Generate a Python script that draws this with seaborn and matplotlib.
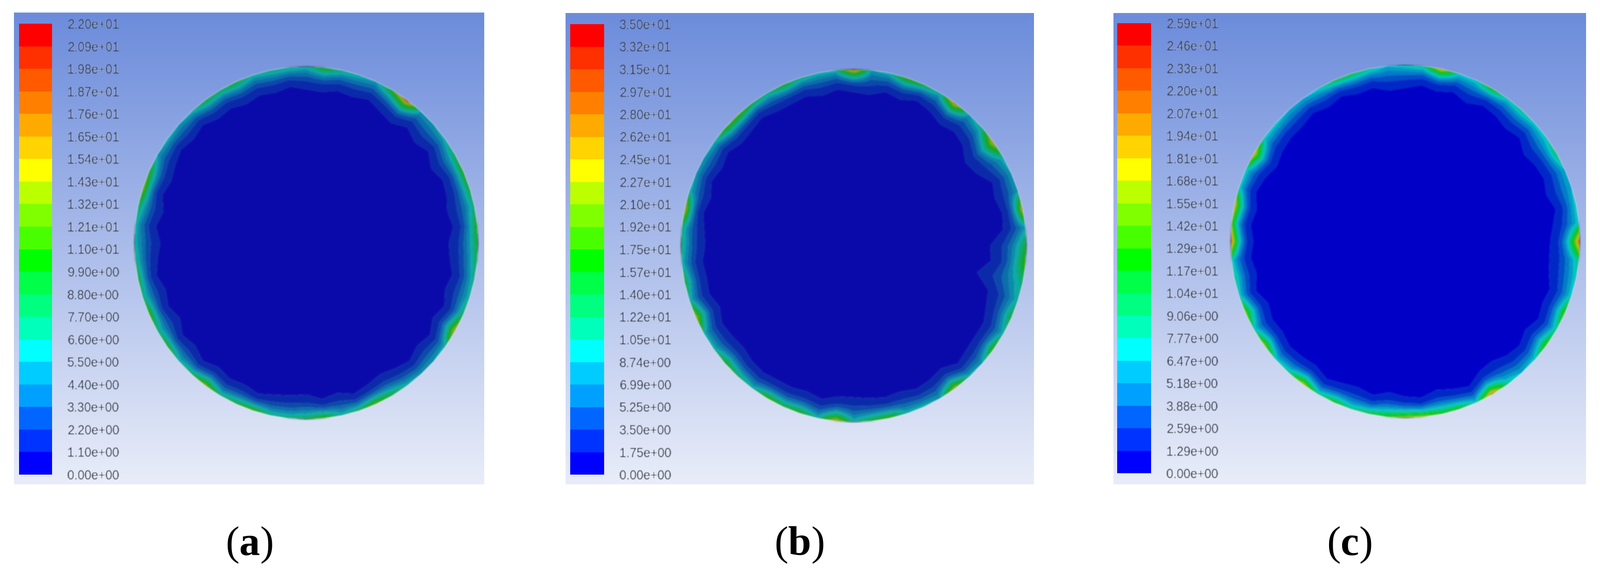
import numpy as np
import matplotlib
matplotlib.use("Agg")
import matplotlib.pyplot as plt
from matplotlib.colors import ListedColormap, to_rgb
import seaborn as sns

# 범례 눈금값 (위에서 아래로)
ticks_a = [22.0, 20.9, 19.8, 18.7, 17.6, 16.5, 15.4, 14.3, 13.2, 12.1, 11.0, 9.9, 8.8, 7.7, 6.6, 5.5, 4.4, 3.3, 2.2, 1.1, 0.0]
ticks_b = [35.0, 33.2, 31.5, 29.7, 28.0, 26.2, 24.5, 22.7, 21.0, 19.2, 17.5, 15.7, 14.0, 12.2, 10.5, 8.74, 6.99, 5.25, 3.5, 1.75, 0.0]
ticks_c = [25.9, 24.6, 23.3, 22.0, 20.7, 19.4, 18.1, 16.8, 15.5, 14.2, 12.9, 11.7, 10.4, 9.06, 7.77, 6.47, 5.18, 3.88, 2.59, 1.29, 0.0]

# 원 둘레의 값 (범례 칸 번호, 동쪽에서 반시계로 6도 간격)
wall_a = [9, 10, 7, 9, 10, 8, 6, 5, 5, 18, 10, 5, 6, 7, 10, 6, 7, 7, 6, 9,
          8, 9, 6, 5, 6, 5, 10, 13, 8, 6, 6, 7, 9, 7, 11, 7, 10, 6, 8, 13,
          7, 9, 11, 7, 7, 8, 11, 6, 8, 12, 9, 6, 5, 5, 6, 15, 8, 6, 7, 8]
wall_b = [9, 5, 15, 5, 5, 6, 15, 7, 5, 16, 6, 9, 11, 6, 5, 17, 6, 6, 7, 10,
          7, 9, 12, 11, 6, 5, 5, 6, 15, 7, 7, 6, 9, 6, 14, 6, 6, 10, 8, 6,
          11, 9, 10, 6, 15, 6, 9, 11, 6, 6, 5, 14, 6, 5, 11, 6, 9, 6, 7, 11]
wall_c = [18, 6, 6, 5, 5, 8, 6, 6, 7, 6, 10, 6, 6, 15, 7, 6, 5, 7, 9, 9,
          6, 5, 5, 6, 6, 15, 6, 6, 15, 11, 18, 6, 7, 6, 12, 6, 13, 6, 7, 14,
          7, 10, 7, 9, 10, 13, 13, 10, 10, 6, 17, 7, 5, 6, 11, 7, 11, 6, 6, 7]

# 가장 안쪽 영역 경계까지의 깊이 (반지름 대비 %)
depth_a = [17, 14, 16, 14, 13, 16, 12, 15, 12, 16, 14, 11, 13, 12, 14, 13, 11, 13, 12, 14,
           12, 13, 10, 12, 10, 12, 14, 12, 15, 12, 15, 13, 11, 14, 12, 15, 11, 13, 10, 13,
           11, 12, 10, 12, 13, 14, 11, 13, 10, 12, 14, 12, 10, 13, 11, 15, 12, 15, 13, 16]
depth_b = [21, 13, 12, 14, 12, 18, 20, 15, 13, 15, 12, 10, 13, 11, 14, 13, 11, 13, 11, 12,
           12, 10, 12, 13, 10, 12, 10, 13, 11, 13, 14, 12, 13, 12, 15, 12, 13, 14, 12, 11,
           12, 12, 13, 11, 14, 14, 13, 12, 13, 11, 12, 14, 10, 12, 13, 13, 16, 18, 27, 20]
depth_c = [17, 15, 12, 15, 13, 14, 16, 12, 14, 12, 11, 14, 11, 13, 11, 13, 14, 11, 12, 10,
           12, 10, 12, 12, 13, 15, 12, 10, 13, 11, 13, 11, 13, 10, 14, 12, 13, 11, 12, 13,
           10, 12, 13, 11, 14, 12, 11, 14, 12, 10, 15, 16, 13, 12, 15, 12, 14, 13, 16, 17]

# 캡션
panel_names = ["a", "b", "c"]

sns.set_theme(style="white")
plt.rcParams['font.family'] = ['Liberation Sans', 'DejaVu Sans']
plt.rcParams['mathtext.fontset'] = 'custom'
plt.rcParams['mathtext.rm'] = 'Liberation Serif'
plt.rcParams['mathtext.bf'] = 'Liberation Serif:bold'

W, H = 3443, 1236
DPI = 100

# Fluent 범례 색
legend_hex = ["#ff0000", "#ff3000", "#ff5a00", "#ff8000", "#ffaa00", "#ffd400", "#ffff00",
              "#bbff00", "#80ff00", "#48ff00", "#00ff00", "#00ff48", "#00ff80", "#00ffbb",
              "#00ffff", "#00ccff", "#00a0ff", "#0066ff", "#0033ff", "#0000ff"]

# 패널 위치 (픽셀): 배경, 범례 막대, 원, 캡션 x
layout = [
  dict(bg=(30, 27, 1042, 1043), bar=(41, 51, 112, 1022), cx=659, cy=523, rx=370, ry=380, shade=0.63, off=10, cap=536),
  dict(bg=(1217, 28, 2225, 1043), bar=(1227, 52, 1300, 1022), cx=1837, cy=529, rx=372, ry=380, shade=0.63, off=10, cap=1719),
  dict(bg=(2396, 28, 3413, 1043), bar=(2404, 50, 2477, 1019), cx=3024, cy=520, rx=376, ry=380, shade=0.78, off=0, cap=2903),
]


# 원본 스크린샷이 흐릿해서 가우시안 블러 필터 사용
def blur(sigma):
  radius = int(3 * sigma)
  kernel = np.exp(-0.5 * (np.arange(-radius, radius + 1) / sigma) ** 2)
  kernel = kernel / kernel.sum()

  def apply(im, dpi):
    pad = radius + 1
    out = np.pad(im, ((pad, pad), (pad, pad), (0, 0)))
    for axis in (0, 1):
      out = np.apply_along_axis(lambda m: np.convolve(m, kernel, mode='same'), axis, out)
    return out, -pad, -pad
  return apply


def draw_panel(fig, ticks, wall, depth, name, cfg):
  x0, y0, x1, y1 = cfg['bg']
  ax = fig.add_axes([x0 / W, 1 - y1 / H, (x1 - x0) / W, (y1 - y0) / H])

  # 배경 그라데이션
  top, bottom = np.array(to_rgb("#6c8cdb")), np.array(to_rgb("#e9edf9"))
  t = np.linspace(0, 1, 256)[:, None, None]
  ax.imshow(top + (bottom - top) * t, extent=(x0, x1, y1, y0), aspect='auto', interpolation='bilinear')

  # 원 안의 값 격자 (둘레값 + 깊이로 구성)
  wall = np.array(wall + wall[:1], dtype=float)
  depth = np.array(depth + depth[:1], dtype=float) / 100
  theta = np.deg2rad(np.arange(len(wall)) * 6.0)
  s = np.linspace(0, 1, 17)[:, None]
  r_in = 1 - depth
  r = np.vstack([np.zeros_like(r_in), r_in * 0.5, r_in + (1 - r_in) * s])
  z = np.vstack([np.zeros_like(wall), 0.5 * np.ones_like(wall),
                 1 + np.minimum(wall - 1, 4) * s ** 1.4 + np.maximum(wall - 5, 0) * s ** 3])
  xx = cfg['cx'] + cfg['rx'] * r * np.cos(theta)
  yy = cfg['cy'] - cfg['ry'] * r * np.sin(theta)

  # 조명 때문에 범례보다 어두운 색
  colors = [tuple(min(1, c * cfg['shade'] + cfg['off'] / 255) for c in to_rgb(h)) for h in legend_hex[::-1]]
  cs = ax.contourf(xx, yy, z, levels=np.arange(21), cmap=ListedColormap(colors), vmin=0, vmax=20, antialiased=True)
  cs.set_agg_filter(blur(1.6))
  ax.set_xlim(x0, x1)
  ax.set_ylim(y1, y0)
  ax.axis('off')

  # 범례 막대
  bx0, by0, bx1, by1 = cfg['bar']
  cax = fig.add_axes([bx0 / W, 1 - by1 / H, (bx1 - bx0) / W, (by1 - by0) / H])
  cax.patch.set_alpha(0)
  ticks = np.array(ticks)
  mids = (ticks[:-1] + ticks[1:]) / 2
  band_cmap = ListedColormap(legend_hex[::-1])
  sns.heatmap(mids[:, None], ax=cax, cmap=band_cmap, vmin=0, vmax=ticks[0], cbar=False,
              xticklabels=False, yticklabels=False)
  cax.set_yticks(np.arange(len(ticks)))
  cax.set_yticklabels([f"{v:.2e}" for v in ticks], rotation=0, fontsize=19.2, color='#2c3344')
  cax.tick_params(axis='y', left=False, right=False, labelleft=False, labelright=True, length=0, pad=24)
  for lab in cax.get_yticklabels():
    lab.set_agg_filter(blur(0.9))

  fig.text(cfg['cap'] / W, 1 - 1174 / H, rf"$(\mathbf{{{name}}})$", fontsize=64, color='black', ha='center', va='center')


def main():
  fig = plt.figure(figsize=(W / DPI, H / DPI), dpi=DPI, facecolor='white')
  all_ticks = [ticks_a, ticks_b, ticks_c]
  all_wall = [wall_a, wall_b, wall_c]
  all_depth = [depth_a, depth_b, depth_c]
  for i in range(3):
    draw_panel(fig, all_ticks[i], all_wall[i], all_depth[i], panel_names[i], layout[i])
  fig.savefig('out.png', dpi=DPI)


if __name__ == "__main__":
  main()
